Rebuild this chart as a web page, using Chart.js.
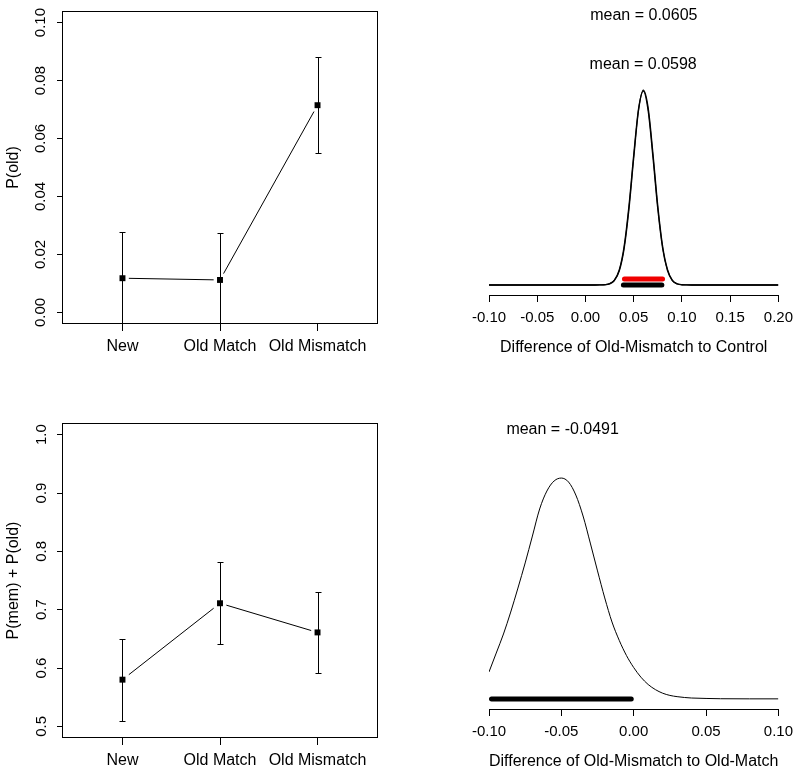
<!DOCTYPE html>
<html>

<head>
    <title>P(old) and posterior differences</title>
    <script src="https://cdn.jsdelivr.net/npm/chart.js"></script>
    <style>
        body { margin: 0; background: #fff; }
        canvas { position: absolute; }
    </style>
</head>

<body>
    <canvas id="pold-chart" width="400" height="385" style="left:0;top:0"></canvas>
    <canvas id="diff-control-chart" width="400" height="385" style="left:400px;top:0"></canvas>
    <canvas id="pmem-chart" width="400" height="386" style="left:0;top:385px"></canvas>
    <canvas id="diff-match-chart" width="400" height="386" style="left:400px;top:385px"></canvas>

    <script>
        // conditions on the x axis of the left panels
        const conditions = ['New', 'Old Match', 'Old Mismatch'];

        // top left: P(old) with 95% intervals
        const pOld = [0.0118, 0.0112, 0.0715];
        const pOldLower = [-0.0042, -0.0051, 0.0550];
        const pOldUpper = [0.0278, 0.0275, 0.0882];
        const pOldTicks = [0.00, 0.02, 0.04, 0.06, 0.08, 0.10];

        // bottom left: P(mem) + P(old)
        const pMem = [0.580, 0.711, 0.661];
        const pMemLower = [0.510, 0.641, 0.591];
        const pMemUpper = [0.650, 0.781, 0.731];
        const pMemTicks = [0.5, 0.6, 0.7, 0.8, 0.9, 1.0];

        // top right: posterior of Old-Mismatch minus control (two runs)
        const ctrlX = [-0.10, 0.000, 0.010, 0.015, 0.020, 0.025, 0.030, 0.035, 0.040, 0.045, 0.050, 0.055,
            0.060, 0.065, 0.070, 0.075, 0.080, 0.085, 0.090, 0.095, 0.100, 0.105, 0.110, 0.20];
        const ctrlDensA = [0, 0, 0, 0.01, 0.05, 0.22, 0.84, 2.6, 6.7, 14.0, 23.6, 32.5,
            36.3, 33.0, 24.4, 14.7, 7.2, 2.9, 0.9, 0.24, 0.05, 0.01, 0, 0];
        const ctrlDensB = [0, 0, 0, 0.01, 0.06, 0.25, 0.93, 2.8, 7.1, 14.6, 24.2, 32.8,
            36.1, 32.4, 23.7, 14.1, 6.8, 2.7, 0.8, 0.2, 0.04, 0.01, 0, 0];
        const ctrlMeans = [0.0605, 0.0598];
        const ctrlHdiA = [0.0404, 0.0799];
        const ctrlHdiB = [0.0393, 0.0792];
        const ctrlTicks = [-0.10, -0.05, 0.00, 0.05, 0.10, 0.15, 0.20];

        // bottom right: posterior of Old-Mismatch minus Old-Match
        const matchX = [-0.100, -0.095, -0.090, -0.085, -0.080, -0.075, -0.070, -0.065, -0.060, -0.055,
            -0.050, -0.045, -0.040, -0.035, -0.030, -0.025, -0.020, -0.015, -0.010, -0.005,
            0.000, 0.005, 0.010, 0.015, 0.020, 0.025, 0.030, 0.035, 0.040, 0.050, 0.060, 0.080, 0.100];
        const matchDens = [1.96, 3.33, 4.71, 6.30, 8.04, 9.86, 11.81, 13.77, 15.07, 15.80,
            16.01, 15.72, 14.78, 13.26, 11.30, 9.28, 7.32, 5.58, 4.25, 3.15,
            2.28, 1.58, 1.05, 0.68, 0.42, 0.26, 0.17, 0.11, 0.07, 0.04, 0.02, 0.01, 0.01];
        const matchMean = -0.0491;
        const matchHdi = [-0.0983, -0.0017];
        const matchTicks = [-0.10, -0.05, 0.00, 0.05, 0.10];

        Chart.defaults.font.family = '"Liberation Sans", Arial, Helvetica, sans-serif';
        Chart.defaults.color = '#000';
        Chart.defaults.animation = false;
        Chart.defaults.plugins.legend.display = false;
        Chart.defaults.plugins.tooltip.enabled = false;

        // box around the plot region (R style)
        const frameBox = {
            id: 'frameBox',
            afterDraw(chart) {
                const a = chart.chartArea, ctx = chart.ctx;
                ctx.save();
                ctx.strokeStyle = '#000';
                ctx.lineWidth = 1;
                ctx.strokeRect(Math.round(a.left) + 0.5, Math.round(a.top) + 0.5,
                    Math.round(a.width) - 1, Math.round(a.height) - 1);
                ctx.restore();
            }
        };

        // vertical interval bars with small caps
        const errorBars = {
            id: 'errorBars',
            afterDatasetsDraw(chart, args, opts) {
                const { ctx, chartArea: a, scales: { x, y } } = chart;
                ctx.save();
                ctx.beginPath();
                ctx.rect(a.left, a.top, a.width, a.height);
                ctx.clip();
                ctx.strokeStyle = '#000';
                ctx.lineWidth = 1;
                opts.lower.forEach((lo, i) => {
                    const px = Math.round(x.getPixelForValue(i + 1)) + 0.5;
                    const yl = Math.round(y.getPixelForValue(lo)) + 0.5;
                    const yu = Math.round(y.getPixelForValue(opts.upper[i])) + 0.5;
                    ctx.beginPath();
                    ctx.moveTo(px, yl); ctx.lineTo(px, yu);
                    ctx.moveTo(px - 3, yu); ctx.lineTo(px + 3, yu);
                    ctx.moveTo(px - 3, yl); ctx.lineTo(px + 3, yl);
                    ctx.stroke();
                });
                ctx.restore();
            }
        };

        // "mean = ..." text placed at the mean on the x scale
        const meanLabels = {
            id: 'meanLabels',
            afterDraw(chart, args, opts) {
                const { ctx, scales: { x, y } } = chart;
                ctx.save();
                ctx.font = '16px "Liberation Sans", Arial, sans-serif';
                ctx.fillStyle = '#000';
                ctx.textAlign = 'center';
                ctx.textBaseline = 'middle';
                opts.items.forEach(it => {
                    ctx.fillText('mean = ' + it.mean.toFixed(4), x.getPixelForValue(it.mean), y.getPixelForValue(it.y));
                });
                ctx.restore();
            }
        };

        function conditionChart(id, values, lower, upper, yTicks, yMin, yMax, yTitle, opt) {
            const pts = values.map((v, i) => ({ x: i + 1, y: v }));
            return new Chart(document.getElementById(id), {
                type: 'scatter',
                data: {
                    datasets: [
                        { data: pts, pointRadius: 4.2, pointStyle: 'rect', backgroundColor: '#000', borderWidth: 0, order: 1 },
                        { data: pts, pointRadius: 9, pointStyle: 'rect', backgroundColor: '#fff', borderWidth: 0, order: 2 },
                        { data: pts, showLine: true, pointRadius: 0, borderColor: '#000', borderWidth: 1, order: 3 }
                    ]
                },
                options: {
                    responsive: false,
                    layout: { padding: opt.padding },
                    plugins: { errorBars: { lower: lower, upper: upper } },
                    scales: {
                        x: {
                            type: 'linear', min: 0.38, max: 3.62,
                            border: { display: false },
                            grid: { drawOnChartArea: false, tickLength: 7, color: '#000' },
                            ticks: {
                                font: { size: 16 }, padding: opt.xPad, maxRotation: 0, minRotation: 0, autoSkip: false,
                                callback: v => conditions[v - 1]
                            },
                            afterBuildTicks: s => { s.ticks = conditions.map((c, i) => ({ value: i + 1 })); },
                            afterFit: s => { s.height = opt.xHeight; }
                        },
                        y: {
                            min: yMin, max: yMax,
                            border: { display: false },
                            grid: { drawOnChartArea: false, tickLength: 5, color: '#000' },
                            ticks: {
                                font: { size: 15 }, padding: opt.yPad, minRotation: 90, maxRotation: 90,
                                crossAlign: 'center', autoSkip: false,
                                callback: v => v.toFixed(opt.digits)
                            },
                            title: { display: true, text: yTitle, font: { size: 16 }, padding: { top: 4, bottom: 0 } },
                            afterBuildTicks: s => { s.ticks = yTicks.map(v => ({ value: v })); },
                            afterFit: s => { s.width = 62; }
                        }
                    }
                },
                plugins: [frameBox, errorBars]
            });
        }

        function densityChart(id, curves, bars, ticks, xMin, xMax, yMin, yMax, xTitle, labels, opt) {
            const datasets = [];
            bars.forEach(b => datasets.push({
                data: [{ x: b.hdi[0], y: b.y }, { x: b.hdi[1], y: b.y }],
                showLine: true, pointRadius: 0, borderColor: b.color, borderWidth: 5, borderCapStyle: 'round'
            }));
            curves.forEach(c => datasets.push({
                data: c.x.map((v, i) => ({ x: v, y: c.y[i] })),
                showLine: true, pointRadius: 0, borderColor: '#000', borderWidth: c.width,
                cubicInterpolationMode: 'monotone'
            }));
            return new Chart(document.getElementById(id), {
                type: 'scatter',
                data: { datasets: datasets },
                options: {
                    responsive: false,
                    layout: { padding: opt.padding },
                    plugins: { meanLabels: { items: labels } },
                    scales: {
                        x: {
                            type: 'linear', min: xMin, max: xMax,
                            border: { display: true, color: '#000', width: 1 },
                            grid: { drawOnChartArea: false, tickLength: 7, color: '#000' },
                            ticks: {
                                font: { size: 15 }, padding: 7, maxRotation: 0, minRotation: 0, autoSkip: false,
                                callback: v => v.toFixed(2)
                            },
                            title: { display: true, text: xTitle, font: { size: 16 }, padding: 0 },
                            afterBuildTicks: s => { s.ticks = ticks.map(v => ({ value: v })); },
                            afterFit: s => { s.height = 62; }
                        },
                        y: { display: false, min: yMin, max: yMax }
                    }
                },
                plugins: [meanLabels]
            });
        }

        conditionChart('pold-chart', pOld, pOldLower, pOldUpper, pOldTicks, -0.004, 0.104, 'P(old)',
            { padding: { top: 9, right: 22, left: 0, bottom: 21 }, xHeight: 40, xPad: 6, yPad: 2, digits: 2 });

        conditionChart('pmem-chart', pMem, pMemLower, pMemUpper, pMemTicks, 0.48, 1.02, 'P(mem) + P(old)',
            { padding: { top: 38, right: 22, left: 0, bottom: 0 }, xHeight: 33, xPad: 6, yPad: 5, digits: 1 });

        densityChart('diff-control-chart',
            [{ x: ctrlX, y: ctrlDensA, width: 1.3 }, { x: ctrlX, y: ctrlDensB, width: 1.3 }],
            [{ hdi: ctrlHdiA, y: 1.12, color: '#f00000' }, { hdi: ctrlHdiB, y: 0, color: '#000' }],
            ctrlTicks, -0.10, 0.20, -1.86, 51.4, 'Difference of Old-Mismatch to Control',
            [{ mean: ctrlMeans[0], y: 50.2 }, { mean: ctrlMeans[1], y: 41.1 }],
            { padding: { top: 9, right: 20, left: 89, bottom: 28 } });

        densityChart('diff-match-chart',
            [{ x: matchX, y: matchDens, width: 1 }],
            [{ hdi: matchHdi, y: 0, color: '#000' }],
            matchTicks, -0.10, 0.10, -0.725, 20.0, 'Difference of Old-Mismatch to Old-Match',
            [{ mean: matchMean, y: 19.5 }],
            { padding: { top: 38, right: 20, left: 89, bottom: 0 } });
    </script>
</body>

</html>
